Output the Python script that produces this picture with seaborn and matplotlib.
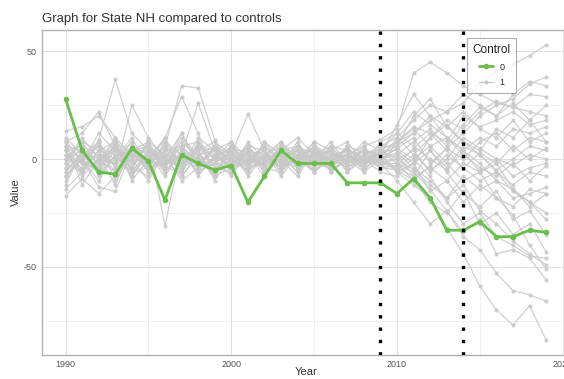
import numpy as np
import pandas as pd
import seaborn as sns
import matplotlib
matplotlib.use('Agg')
from matplotlib import pyplot as plt
from matplotlib.lines import Line2D
from matplotlib.ticker import MultipleLocator

years = list(range(1990, 2020))

# treated state
nh = [28, 4, -6, -7, 5, -1, -19, 2, -2, -5,
      -3, -20, -8, 4, -2, -2, -2, -11, -11, -11,
      -16, -9, -18, -33, -33, -29, -36, -36, -33, -34]

# control states (read by eye)
ctrl_01 = [6, -5, 9, 37, 12, 4, -3, 8, 1, -7, 5, 3, -6, 7, 0, 8, 4, -3, 6, 9, 14, 40, 45, 40, 34, 30, 26, 24, 22, 20]
ctrl_02 = [-2, 8, 4, -6, 25, 10, 0, -4, 6, 2, -3, 6, 4, -8, 2, 0, -5, 6, 3, 4, 8, 12, 18, 22, 26, 35, 41, 44, 48, 53]
ctrl_03 = [4, -8, 0, 6, -5, 9, -31, 6, -2, 5, 0, -5, 8, 2, -6, 4, 0, 2, -2, 0, 5, 10, -2, 5, 12, 20, 25, 28, 35, 38]
ctrl_04 = [0, 4, -6, 8, 2, -4, 6, 34, 33, 9, -6, 4, 0, -3, 6, 2, -5, 0, 4, -2, -4, 2, 10, 18, 14, 22, 27, 24, 30, 29]
ctrl_05 = [-6, 2, 8, -4, 6, 0, 10, 29, 12, -8, 4, -6, 2, 8, 0, -4, 6, 4, 0, 2, 8, 15, 12, 8, 20, 15, 18, 22, 16, 18]
ctrl_06 = [9, -2, -4, 4, 0, 6, -6, 2, 26, 4, 8, 0, -3, 4, -4, 6, 2, 0, 8, 4, 12, 6, 0, -5, 4, 10, 6, 14, 12, 15]
ctrl_07 = [-4, 6, 2, -2, 8, -6, 4, 0, -4, 6, 2, 21, 4, -6, 2, 0, 8, -2, 4, -4, -5, -10, -3, 5, 0, 8, 12, 4, 10, 8]
ctrl_08 = [-17, -9, -16, -8, 4, -6, 2, -10, -4, 0, -8, 4, -6, 0, -4, 2, -3, 6, -4, 0, -6, -2, 4, -4, 6, 2, -5, 0, 6, 4]
ctrl_09 = [13, 15, 20, 10, -6, 4, -2, 6, 8, -4, 0, 6, -2, 4, 10, 2, 0, -4, 2, 6, 10, 2, -5, 0, 10, 5, 0, -3, 2, 0]
ctrl_10 = [8, 12, 22, 6, -8, 2, 0, -4, 10, 4, -6, 0, 4, -4, 2, -6, 4, 8, -2, 0, 2, -8, -4, -10, -2, -6, 0, -8, -4, -2]
ctrl_11 = [-8, 0, -13, -15, 4, 8, -4, 12, -2, 0, 6, -2, 0, 8, -4, 4, -6, 0, 2, -4, -3, 5, 12, 4, -4, -10, -6, -12, -6, -8]
ctrl_12 = [2, -6, 4, 8, -10, 0, 6, -2, 4, -8, -4, 0, 6, -2, 8, -4, 2, 0, -6, 4, 0, -5, -12, -18, -8, -14, -10, -18, -16, -13]
ctrl_13 = [-12, 4, -6, 0, 10, -4, 8, 2, -6, -2, 4, -8, 2, 6, -4, 0, 4, -2, 0, -6, -8, -2, -15, -10, -20, -12, -18, -22, -14, -16]
ctrl_14 = [8, -12, 0, 4, -2, 6, -4, 10, 2, -2, -4, 4, -6, 0, 6, -2, -4, 4, 0, 2, 6, 12, 20, 15, 8, 2, -6, -15, -20, -25]
ctrl_15 = [-8, 2, 6, -4, 0, -10, 4, -6, 8, 0, 2, -4, 0, 4, -2, 6, 0, -4, 2, -2, -2, -10, -20, -25, -15, -30, -25, -35, -30, -43]
ctrl_16 = [4, 6, -8, 2, -6, 4, 0, 12, -4, 6, -2, 2, -4, -6, 4, 0, -2, 6, -4, 0, 5, 0, -8, -20, -30, -25, -36, -40, -45, -46]
ctrl_17 = [0, -4, 2, -12, 6, 2, -8, 4, 0, -6, 6, -2, 4, -4, 0, 2, 6, -2, 4, 2, -6, -12, -18, -32, -44, -59, -70, -77, -68, -84]
ctrl_18 = [-10, 4, -2, 6, -4, 8, 2, -4, 6, 0, -2, 6, -4, 2, -6, 4, -2, 0, -2, 4, -2, -6, -14, -24, -36, -42, -53, -61, -63, -66]
ctrl_19 = [6, 0, -10, 2, 4, -2, 6, -8, 2, 4, 0, -6, 2, -4, 4, -2, 0, 4, -6, 0, 3, -4, -10, -18, -12, -24, -30, -38, -44, -49]
ctrl_20 = [-2, 10, 0, -6, 2, 4, -4, 6, -8, 2, 4, 0, -2, 6, -4, 2, 4, -6, 0, -2, 8, 14, 6, -2, -10, -6, -18, -26, -40, -51]
ctrl_21 = [2, -2, 12, 4, -4, -8, 2, 0, 6, -4, -6, 4, 2, -2, 0, 6, -4, 2, 4, 0, 10, 18, 25, 22, 30, 25, 20, 26, 18, 25]
ctrl_22 = [-6, 4, -2, 10, 2, 0, -4, -6, 4, 8, 2, -2, 6, 0, -8, 4, 2, 0, -4, 6, 6, 20, 28, 15, 22, 14, 10, 18, 8, 12]
ctrl_23 = [4, -6, 0, -2, 6, 2, 8, -4, 0, 2, -4, 8, 0, 2, 4, -6, 0, 2, 6, -2, 0, 4, -6, 2, -4, 3, -2, 6, 0, 5]
ctrl_24 = [-4, 0, 6, 2, -8, 4, -2, 2, -6, 0, 8, -4, -2, 4, 2, -2, 6, -4, 0, 2, -5, 0, 6, 10, 2, -4, -8, -2, -10, -3]
ctrl_25 = [10, 2, -4, -8, 0, -2, 4, 6, -2, 4, 0, 2, -8, 4, 6, 0, -2, 2, -4, 8, 12, 22, 16, 10, 4, -2, -10, -14, -20, -28]
ctrl_26 = [-14, -6, 4, 0, 8, -4, 0, -2, 4, -10, 2, 0, 4, -6, 2, 4, -4, -2, 2, 0, -4, -8, 4, -6, -16, -22, -15, -28, -24, -35]
ctrl_27 = [0, 8, -4, 6, -2, 2, -6, 4, -4, -2, 6, -4, 8, -2, 0, -6, 2, 4, 0, -4, 2, 8, 14, 6, 16, 24, 20, 30, 36, 34]
ctrl_28 = [-2, -6, 8, -10, 4, 6, 0, -8, 2, 6, -2, 4, -4, 2, -2, 8, -6, 0, 4, 2, 16, 30, 20, 10, 4, -6, -2, -14, -22, -16]
ctrl_29 = [6, 4, 0, 8, -6, -4, -2, 2, 0, -8, 4, -2, 2, -4, 6, -4, 4, -6, 2, -2, -10, -20, -30, -24, -34, -28, -44, -42, -46, -56]
ctrl_30 = [-8, 0, -6, 4, 2, -2, 10, -4, 6, 4, -4, 6, -2, 0, 4, -2, -4, 2, -2, 4, 4, -2, 10, 16, 8, 4, 14, 10, 18, 8]

controls = [ctrl_01, ctrl_02, ctrl_03, ctrl_04, ctrl_05, ctrl_06, ctrl_07, ctrl_08, ctrl_09, ctrl_10,
            ctrl_11, ctrl_12, ctrl_13, ctrl_14, ctrl_15, ctrl_16, ctrl_17, ctrl_18, ctrl_19, ctrl_20,
            ctrl_21, ctrl_22, ctrl_23, ctrl_24, ctrl_25, ctrl_26, ctrl_27, ctrl_28, ctrl_29, ctrl_30]

breaks = [2009, 2014]

rows = []
for i, vals in enumerate(controls):
    for y, v in zip(years, vals):
        rows.append({'state': 'C%02d' % (i + 1), 'Year': y, 'Value': v, 'Control': 1})
for y, v in zip(years, nh):
    rows.append({'state': 'NH', 'Year': y, 'Value': v, 'Control': 0})
data_ = pd.DataFrame(rows)

green = '#68bf4a'
grey = '#c8c8c8'

sns.set_style("white")
plt.rcParams['font.family'] = ['Liberation Sans', 'DejaVu Sans']
plt.rcParams['axes.unicode_minus'] = False

fig = plt.figure(figsize=(5.64, 3.79), dpi=100)
ax = fig.add_axes([0.0736, 0.0633, 0.9374, 0.8575])

sns.lineplot(data=data_[data_.Control == 1], x='Year', y='Value', units='state',
             estimator=None, color=grey, lw=0.9, marker='o', markersize=3,
             markeredgewidth=0, alpha=0.85, legend=False, ax=ax)
sns.lineplot(data=data_[data_.Control == 0], x='Year', y='Value',
             estimator=None, color=green, lw=2.0, marker='o', markersize=4,
             markeredgewidth=0, legend=False, ax=ax, zorder=5)

for b in breaks:
    ax.axvline(b, color='black', ls=(0, (1, 2.7)), lw=2.4, zorder=6)

ax.set_xlim(1988.55, 2020.45)
ax.set_ylim(-90.9, 59.9)
ax.xaxis.set_major_locator(MultipleLocator(10))
ax.xaxis.set_minor_locator(MultipleLocator(5))
ax.yaxis.set_major_locator(MultipleLocator(50))
ax.yaxis.set_minor_locator(MultipleLocator(25))
ax.grid(which='major', color='#e0e0e0', lw=0.7)
ax.grid(which='minor', color='#ececec', lw=0.5)
ax.set_axisbelow(True)
ax.tick_params(which='major', length=2.5, width=0.6, color='#999999',
               labelsize=6.5, labelcolor='#555555', pad=1)
ax.tick_params(which='minor', length=0)
for s in ax.spines.values():
    s.set_color('#b0b0b0')
    s.set_linewidth(1.0)

ax.set_xlabel('Year', size=8, color='#333333')
ax.xaxis.set_label_coords(0.5, -0.036)
ax.set_ylabel('Value', size=8, color='#333333', labelpad=2)
ax.set_title('Graph for State NH compared to controls', loc='left', size=9.5,
             color='#333333', pad=6)

handles = [Line2D([], [], color=green, lw=2.0, marker='o', markersize=4, markeredgewidth=0),
           Line2D([], [], color=grey, lw=0.9, marker='o', markersize=3, markeredgewidth=0)]
leg = ax.legend(handles, ['0', '1'], title='Control', loc='upper left',
                bbox_to_anchor=(0.797, 0.988), fontsize=6.5, title_fontsize=8.5,
                frameon=True, fancybox=False, handlelength=1.6, borderpad=0.6,
                labelspacing=0.75, handletextpad=0.7)
leg.get_frame().set_edgecolor('#999999')
leg.get_frame().set_linewidth(0.8)
leg.set_zorder(10)

plt.savefig('out.png', dpi=100)
